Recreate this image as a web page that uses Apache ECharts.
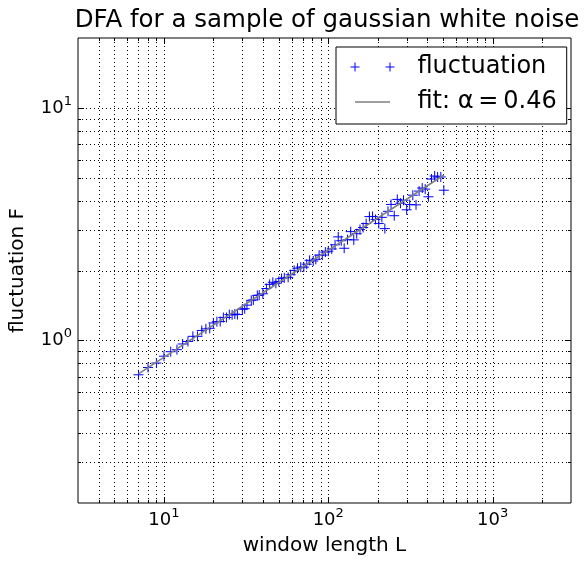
<!DOCTYPE html>
<html>
<head>
<meta charset="utf-8">
<script src="https://cdn.jsdelivr.net/npm/echarts@6/dist/echarts.min.js"></script>
<style>
html,body{margin:0;padding:0;background:#fff;}
#chart{width:587px;height:563px;}
</style>
</head>
<body>
<div id="chart"></div>
<script>
// ---- data ----
const windowLengths = [7,8,9,10,11,12,13,14,15,16,17,18,19,20,21,22,
  23,24,25,26,27,28,30,31,32,34,35,37,38,40,42,44,46,48,50,52,54,57,59,62,65,68,71,74,77,81,84,88,92,96,
  100,105,110,115,120,125,131,137,143,149,156,163,170,178,186,194,203,212,221,231,241,252,263,275,287,
  300,313,327,342,357,373,389,407,425,444,463,484,505];
const fluctuation = [0.712,0.765,0.800,0.856,0.895,0.913,0.966,0.990,1.042,1.042,1.104,1.122,1.128,1.190,1.205,1.206,
  1.256,1.256,1.292,1.289,1.299,1.293,1.363,1.370,1.419,1.489,1.494,1.563,1.567,1.588,1.673,1.743,1.779,1.762,1.795,1.846,1.860,1.869,1.918,2.002,2.046,2.068,2.068,2.129,2.212,2.197,2.234,2.329,2.329,2.400,
  2.421,2.476,2.580,2.790,2.686,2.493,2.714,2.939,2.709,2.879,3.000,3.061,3.184,3.411,3.416,3.317,3.184,3.386,3.028,3.594,3.848,3.441,4.044,3.894,4.011,
  3.648,3.843,4.217,3.831,4.391,4.525,4.477,4.151,4.948,5.097,5.048,5.051,4.429];
const fitL = [7, 505];
const fitF = [0.719, 5.15];

const xMajorTicks = [10, 100, 1000];
const xTickExps = ['1', '2', '3'];
const xMinorTicks = [4,5,6,7,8,9,20,30,40,50,60,70,80,90,200,300,400,500,600,700,800,900,2000];
const yMajorTicks = [1, 10];
const yTickExps = ['0', '1'];
const yMinorTicks = [0.3,0.4,0.5,0.6,0.7,0.8,0.9,2,3,4,5,6,7,8,9];

const FONT = 'DejaVu Sans';

// grid-line items: [x, y, orientation(0 vertical,1 horizontal), major(1/0)]
const gridItems = [];
xMajorTicks.forEach(v => gridItems.push([v, 1, 0, 1]));
xMinorTicks.forEach(v => gridItems.push([v, 1, 0, 0]));
yMajorTicks.forEach(v => gridItems.push([10, v, 1, 1]));
yMinorTicks.forEach(v => gridItems.push([10, v, 1, 0]));

function renderGrid(params, api) {
  const cs = params.coordSys;
  const orient = api.value(2), major = api.value(3);
  const tl = major ? 6 : 3;
  const p = api.coord([api.value(0), api.value(1)]);
  const dash = {stroke: '#000', lineWidth: 1, lineDash: [1, 3]};
  const solid = {stroke: '#000', lineWidth: 1};
  const ch = [];
  if (orient === 0) {
    const x = Math.round(p[0]) + 0.5;
    const y0 = cs.y, y1 = cs.y + cs.height;
    ch.push({type: 'line', shape: {x1: x, y1: y0, x2: x, y2: y1}, style: dash});
    ch.push({type: 'line', shape: {x1: x, y1: y1, x2: x, y2: y1 - tl}, style: solid});
    ch.push({type: 'line', shape: {x1: x, y1: y0, x2: x, y2: y0 + tl}, style: solid});
  } else {
    const y = Math.round(p[1]) + 0.5;
    const x0 = cs.x, x1 = cs.x + cs.width;
    ch.push({type: 'line', shape: {x1: x0, y1: y, x2: x1, y2: y}, style: dash});
    ch.push({type: 'line', shape: {x1: x0, y1: y, x2: x0 + tl, y2: y}, style: solid});
    ch.push({type: 'line', shape: {x1: x1, y1: y, x2: x1 - tl, y2: y}, style: solid});
  }
  return {type: 'group', children: ch};
}

function makeFormatter(ticks, exps) {
  return function (v) {
    const i = ticks.findIndex(t => Math.abs(t - v) / t < 1e-6);
    return i < 0 ? '' : '{a|10}{b|' + exps[i] + '}';
  };
}
const labelRich = {
  a: {fontFamily: FONT, fontSize: 18, color: '#000', lineHeight: 26},
  b: {fontFamily: FONT, fontSize: 13, color: '#000', verticalAlign: 'top', lineHeight: 14}
};

const plusPath = 'path://M0,5L10,5M5,0L5,10';
const legendPlus = 'path://M0,0M0,5L9,5M4.5,0.5L4.5,9.5M35,5L44,5M39.5,0.5L39.5,9.5M62,10';
const legendLine = 'path://M0,0M4.5,5L39.5,5M62,10';

const chart = echarts.init(document.getElementById('chart'), null, {renderer: 'canvas'});
chart.setOption({
  animation: false,
  backgroundColor: '#fff',
  textStyle: {fontFamily: FONT},
  title: {
    text: 'DFA for a sample of gaussian white noise',
    left: 322, top: 3, textAlign: 'center',
    textStyle: {fontFamily: FONT, fontSize: 24.5, fontWeight: 'normal', color: '#000'}
  },
  grid: {left: 77, right: 16, top: 38, bottom: 60, show: true, borderColor: '#000', borderWidth: 1, backgroundColor: 'transparent', containLabel: false},
  legend: {
    orient: 'vertical', left: 336, top: 47,
    padding: [8, 10, 10, 12], itemGap: 11,
    itemWidth: 62, itemHeight: 10,
    backgroundColor: '#fff', borderColor: '#000', borderWidth: 1,
    textStyle: {fontFamily: FONT, fontSize: 24, color: '#000'},
    data: [
      {name: 'fluctuation', icon: legendPlus, itemStyle: {color: 'none', borderColor: '#0000ff', borderWidth: 1}},
      {name: 'fit: α\u2009=\u20090.46', icon: legendLine, itemStyle: {color: 'none', borderColor: '#7f7f7f', borderWidth: 1.6}}
    ],
    selectedMode: false
  },
  xAxis: {
    type: 'log', logBase: 10, min: 3, max: 3000,
    name: 'window length L', nameLocation: 'middle', nameGap: 33,
    nameTextStyle: {fontFamily: FONT, fontSize: 20, color: '#000'},
    axisLine: {show: false}, axisTick: {show: false}, splitLine: {show: false},
    axisLabel: {margin: 4, formatter: makeFormatter(xMajorTicks, xTickExps), rich: labelRich, showMinLabel: false, showMaxLabel: false}
  },
  yAxis: {
    type: 'log', logBase: 10, min: 0.2, max: 20,
    name: 'fluctuation F', nameLocation: 'middle', nameGap: 50, nameRotate: 90,
    nameTextStyle: {fontFamily: FONT, fontSize: 20, color: '#000'},
    axisLine: {show: false}, axisTick: {show: false}, splitLine: {show: false},
    axisLabel: {margin: 6, formatter: makeFormatter(yMajorTicks, yTickExps), rich: labelRich, showMinLabel: false, showMaxLabel: false}
  },
  series: [
    {
      type: 'custom', name: 'grid', silent: true, z: 1,
      renderItem: renderGrid, data: gridItems, clip: false
    },
    {
      type: 'scatter', name: 'fluctuation', z: 3,
      symbol: plusPath, symbolSize: 10,
      itemStyle: {color: '#0000ff', borderColor: '#0000ff', borderWidth: 1, opacity: 1},
      data: windowLengths.map((l, i) => [l, fluctuation[i]])
    },
    {
      type: 'line', name: 'fit: α\u2009=\u20090.46', z: 4,
      symbol: 'none', showSymbol: false,
      lineStyle: {color: '#7f7f7f', width: 1.6},
      itemStyle: {color: '#7f7f7f'},
      data: fitL.map((l, i) => [l, fitF[i]])
    }
  ]
});
</script>
</body>
</html>
